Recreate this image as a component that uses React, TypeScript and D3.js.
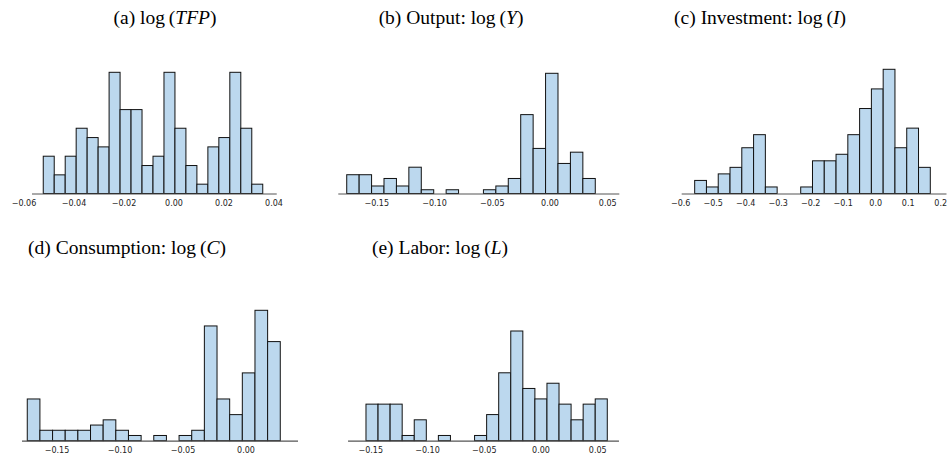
import { useEffect, useRef } from "react";
import * as d3 from "d3";

// histogram counts (20 bins each)
const countsTFP = [4, 2, 4, 7, 6, 5, 13, 9, 9, 3, 4, 13, 7, 3, 1, 5, 6, 13, 7, 1];
const countsY = [5, 5, 2, 4, 2, 7, 1, 0, 1, 0, 0, 1, 2, 4, 21, 12, 32, 8, 11, 4];
const countsI = [2, 1, 3, 4, 7, 9, 1, 0, 0, 1, 5, 5, 6, 9, 13, 16, 19, 7, 10, 4];
const countsC = [8, 2, 2, 2, 2, 3, 4, 2, 1, 0, 1, 0, 1, 2, 22, 8, 5, 13, 25, 19];
const countsL = [7, 7, 7, 1, 4, 0, 1, 0, 0, 1, 5, 13, 21, 10, 8, 11, 7, 4, 7, 8];

// first bin edge and bin width
const binsTFP = [-0.0523, 0.00439];
const binsY = [-0.176, 0.01076];
const binsI = [-0.557, 0.03625];
const binsC = [-0.1736, 0.01004];
const binsL = [-0.1542, 0.01063];

// tick labels
const ticksTFP = [-0.06, -0.04, -0.02, 0.0, 0.02, 0.04];
const ticksY = [-0.15, -0.1, -0.05, 0.0, 0.05];
const ticksI = [-0.6, -0.5, -0.4, -0.3, -0.2, -0.1, 0.0, 0.1, 0.2];
const ticksC = [-0.15, -0.1, -0.05, 0.0];
const ticksL = [-0.15, -0.1, -0.05, 0.0, 0.05];

// axis limits (data units)
const limsTFP = [-0.0568, 0.0411];
const limsY = [-0.1833, 0.06];
const limsI = [-0.597, 0.2178];
const limsC = [-0.1778, 0.0413];
const limsL = [-0.17, 0.0687];

interface Panel {
  label: string;
  name: string;
  sym: string;
  counts: number[];
  bins: number[];
  ticks: number[];
  lims: number[];
  decimals: number;
  // layout: pixel of value 0, px per unit, baseline, top of tallest bar, title centre
  zero: number;
  ppu: number;
  base: number;
  top: number;
  tx: number;
  ty: number;
}

const panels: Panel[] = [
  { label: "(a)", name: "", sym: "TFP", counts: countsTFP, bins: binsTFP, ticks: ticksTFP, lims: limsTFP, decimals: 2,
    zero: 174, ppu: 2500, base: 193.5, top: 72.3, tx: 165, ty: 24 },
  { label: "(b)", name: "Output:", sym: "Y", counts: countsY, bins: binsY, ticks: ticksY, lims: limsY, decimals: 2,
    zero: 550, ppu: 1155, base: 193.5, top: 73.3, tx: 451, ty: 24 },
  { label: "(c)", name: "Investment:", sym: "I", counts: countsI, bins: binsI, ticks: ticksI, lims: limsI, decimals: 1,
    zero: 875.7, ppu: 325, base: 193.5, top: 69.3, tx: 760, ty: 24 },
  { label: "(d)", name: "Consumption:", sym: "C", counts: countsC, bins: binsC, ticks: ticksC, lims: limsC, decimals: 2,
    zero: 246, ppu: 1260, base: 440.7, top: 310.3, tx: 127, ty: 254 },
  { label: "(e)", name: "Labor:", sym: "L", counts: countsL, bins: binsL, ticks: ticksL, lims: limsL, decimals: 2,
    zero: 541, ppu: 1135, base: 440.7, top: 331, tx: 440, ty: 254 },
];

const W = 951;
const H = 453;

export default function App() {
  const svgRef = useRef<SVGSVGElement>(null);

  useEffect(() => {
    if (!svgRef.current) return;
    const svg = d3.select(svgRef.current);
    svg.selectAll("*").remove();

    panels.forEach(p => {
      const x = d3.scaleLinear()
        .domain([0, 1])
        .range([p.zero, p.zero + p.ppu]);
      const y = d3.scaleLinear()
        .domain([0, d3.max(p.counts) as number])
        .range([p.base, p.top]);

      const g = svg.append("g");
      const bars = p.counts.map((c, i) => ({
        x0: p.bins[0] + i * p.bins[1],
        x1: p.bins[0] + (i + 1) * p.bins[1],
        c,
      })).filter(d => d.c > 0);

      g.selectAll("rect")
        .data(bars)
        .enter()
        .append("rect")
        .attr("x", d => x(d.x0))
        .attr("y", d => y(d.c))
        .attr("width", d => x(d.x1) - x(d.x0))
        .attr("height", d => y(0) - y(d.c))
        .attr("fill", "#bcd8ee")
        .attr("stroke", "#111")
        .attr("stroke-width", 1);

      // bottom spine only
      g.append("line")
        .attr("x1", x(p.lims[0]))
        .attr("x2", x(p.lims[1]))
        .attr("y1", p.base + 0.5)
        .attr("y2", p.base + 0.5)
        .attr("stroke", "#555")
        .attr("stroke-width", 1.2);

      const fmt = d3.format(`.${p.decimals}f`);
      g.selectAll("text.tick")
        .data(p.ticks)
        .enter()
        .append("text")
        .attr("class", "tick")
        .attr("x", d => x(d))
        .attr("y", p.base + 12.5)
        .attr("text-anchor", "middle")
        .style("font-family", "DejaVu Sans")
        .style("font-size", "8px")
        .attr("fill", "#222")
        .text(d => fmt(d).replace("-", "\u2212"));

      const t = g.append("text")
        .attr("x", p.tx)
        .attr("y", p.ty)
        .attr("text-anchor", "middle")
        .style("font-family", "Liberation Serif")
        .style("font-size", "19.5px")
        .attr("fill", "#000");
      t.append("tspan").text(`${p.label} ${p.name ? p.name + " " : ""}log\u2009(`);
      t.append("tspan").style("font-style", "italic").text(p.sym);
      t.append("tspan").text(")");
    });
  }, []);

  return (
    <svg
      ref={svgRef}
      width={W}
      height={H}
      style={{ position: "absolute", left: 0, top: 0, background: "#fff" }}
    />
  );
}
